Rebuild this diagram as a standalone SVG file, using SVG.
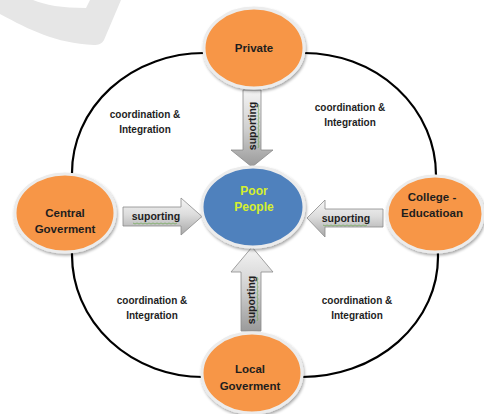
<svg xmlns="http://www.w3.org/2000/svg" width="484" height="414" viewBox="0 0 484 414">
<defs>
<linearGradient id="gv" x1="0" y1="0" x2="0" y2="1">
<stop offset="0" stop-color="#f4f4f4"/>
<stop offset="0.5" stop-color="#d0d0d0"/>
<stop offset="1" stop-color="#9a9a9a"/>
</linearGradient>
<linearGradient id="gh" x1="0" y1="0" x2="0" y2="1">
<stop offset="0" stop-color="#f6f6f6"/>
<stop offset="0.45" stop-color="#dcdcdc"/>
<stop offset="1" stop-color="#a8a8a8"/>
</linearGradient>
<filter id="sh" x="-20%" y="-20%" width="140%" height="140%">
<feGaussianBlur in="SourceAlpha" stdDeviation="1.5"/>
<feOffset dx="1" dy="2" result="b"/>
<feComponentTransfer><feFuncA type="linear" slope="0.35"/></feComponentTransfer>
<feMerge><feMergeNode/><feMergeNode in="SourceGraphic"/></feMerge>
</filter>
</defs>
<style>
.node{stroke:#ececec;stroke-width:3;filter:url(#sh)}
.org{fill:#f79646}
.blu{fill:#4f81bd}
.lbl{font-family:"Liberation Sans",Arial,sans-serif;font-weight:bold;font-size:11.5px;fill:#1e1e1e;text-anchor:middle}
.pp{fill:#d6f02c;font-size:12px}
.sup{font-family:"Liberation Sans",Arial,sans-serif;font-weight:bold;font-size:10.5px;fill:#1e1e1e;text-anchor:middle}
.ci{font-family:"Liberation Sans",Arial,sans-serif;font-weight:bold;font-size:10px;fill:#1e1e1e;text-anchor:middle}
.arr{stroke:#8a8a8a;stroke-width:0.8}
.wav{fill:none;stroke:#6aa84f;stroke-width:0.7}
</style>
<path d="M0 0 H33 C45 5 62 8 86 8 L90 0 H121 L104 40 C102 44 98 45 94 45 C55 43 30 30 0 14 Z" fill="#e6e6e6"/>
<g id="connectors">
<path d="M204 53 A132 120 0 0 0 72 173 L72 255 A131 122 0 0 0 203 377 L302 377 A136 120 0 0 0 438 257 L436 175 A132 122 0 0 0 304 53" fill="none" stroke="#000" stroke-width="2.2"/>
<g id="arrow-top">
<path class="arr" d="M243 90 H261 V150 H273 L252 167 L231 150 H243 Z" fill="url(#gv)"/>
<text class="sup" transform="translate(256 126) rotate(-90)">suporting</text>
<path class="wav" d="M258 104 l1 2 l-1 2 l1 2 l-1 2 l1 2 l-1 2 l1 2 l-1 2 l1 2 l-1 2 l1 2 l-1 2 l1 2 l-1 2 l1 2 l-1 2 l1 2 l-1 2 l1 2 l-1 2 l1 2 l-1 2"/>
</g>
<g id="arrow-bottom">
<path class="arr" d="M252 247 L273 272 H261 V331 H241 V272 H231 Z" fill="url(#gv)"/>
<text class="sup" transform="translate(255 300) rotate(-90)">suporting</text>
<path class="wav" d="M257 277 l1 2 l-1 2 l1 2 l-1 2 l1 2 l-1 2 l1 2 l-1 2 l1 2 l-1 2 l1 2 l-1 2 l1 2 l-1 2 l1 2 l-1 2 l1 2 l-1 2 l1 2 l-1 2 l1 2 l-1 2"/>
</g>
<g id="arrow-left">
<path class="arr" d="M123 207 H181 V198 L202 216.5 L181 235 V226 H123 Z" fill="url(#gh)"/>
<text class="sup" x="156" y="220">suporting</text>
<path class="wav" d="M133 223 l2 1 l2 -1 l2 1 l2 -1 l2 1 l2 -1 l2 1 l2 -1 l2 1 l2 -1 l2 1 l2 -1 l2 1 l2 -1 l2 1 l2 -1 l2 1 l2 -1 l2 1 l2 -1 l2 1 l2 -1"/>
</g>
<g id="arrow-right">
<path class="arr" d="M307 218 L325 200 V209 H383 V227 H325 V237 Z" fill="url(#gh)"/>
<text class="sup" x="346" y="222">suporting</text>
<path class="wav" d="M323 225 l2 1 l2 -1 l2 1 l2 -1 l2 1 l2 -1 l2 1 l2 -1 l2 1 l2 -1 l2 1 l2 -1 l2 1 l2 -1 l2 1 l2 -1 l2 1 l2 -1 l2 1 l2 -1 l2 1 l2 -1"/>
</g>
<text class="ci" x="145" y="118">coordination &amp;</text>
<text class="ci" x="145" y="133">Integration</text>
<text class="ci" x="350" y="111">coordination &amp;</text>
<text class="ci" x="350" y="126">Integration</text>
<text class="ci" x="152" y="304">coordination &amp;</text>
<text class="ci" x="152" y="319">Integration</text>
<text class="ci" x="357" y="304">coordination &amp;</text>
<text class="ci" x="357" y="319">Integration</text>
</g>
<g id="private">
<ellipse class="node org" cx="254" cy="48" rx="50" ry="40"/>
<text class="lbl" x="254" y="52">Private</text>
</g>
<g id="central">
<ellipse class="node org" cx="65" cy="213" rx="50" ry="39"/>
<text class="lbl" x="65" y="217">Central</text>
<text class="lbl" x="65" y="233">Goverment</text>
</g>
<g id="college">
<ellipse class="node org" cx="435" cy="214" rx="48" ry="38"/>
<text class="lbl" x="432" y="201">College -</text>
<text class="lbl" x="432" y="217">Educatioan</text>
</g>
<g id="poor">
<ellipse class="node blu" cx="253" cy="207" rx="51" ry="40"/>
<text class="lbl pp" x="254" y="195">Poor</text>
<text class="lbl pp" x="254" y="211">People</text>
</g>
<g id="local">
<ellipse class="node org" cx="252" cy="373" rx="50" ry="40"/>
<text class="lbl" x="250" y="373">Local</text>
<text class="lbl" x="250" y="390">Goverment</text>
</g>
</svg>
